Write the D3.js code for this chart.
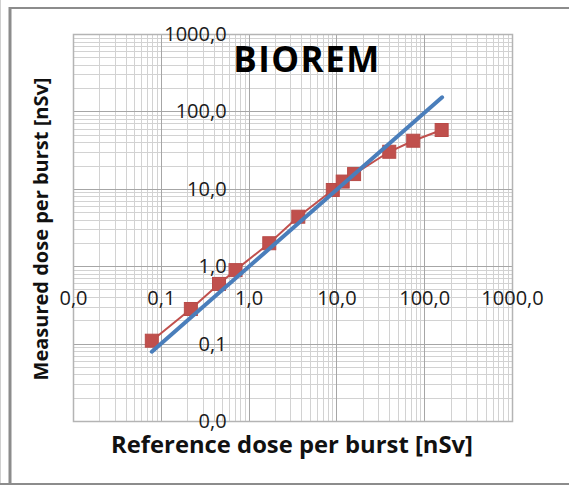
<!DOCTYPE html>
<html>
<head>
<meta charset="utf-8">
<script src="https://cdn.jsdelivr.net/npm/d3@7"></script>
<style>
  body { margin: 0; background: #fff; }
  svg { display: block; font-family: "Open Sans", Lato, sans-serif; }
</style>
</head>
<body>
<div id="chart"></div>
<script>
// measured vs reference dose, log-log
const refDose = [0.079, 0.22, 0.46, 0.71, 1.72, 3.68, 9.1, 11.8, 15.9, 40, 75, 158];
const measDose = [0.109, 0.28, 0.59, 0.89, 1.98, 4.36, 9.65, 12.4, 15.5, 30.1, 41.8, 57.5];

// blue reference line ends
const lineX = [0.079, 160];
const lineY = [0.0785, 152];

const tickValues = [0.01, 0.1, 1, 10, 100, 1000];
const tickLabels = ['0,0', '0,1', '1,0', '10,0', '100,0', '1000,0'];

const title = 'BIOREM';
const xTitle = 'Reference dose per burst [nSv]';
const yTitle = 'Measured dose per burst [nSv]';

let W = 569, H = 485;
let plot = { left: 73, right: 512, top: 34, bottom: 421 };

let svg = d3.select('#chart').append('svg')
    .attr('width', W)
    .attr('height', H);

// outer frame
svg.append('line').attr('x1', 0.5).attr('x2', 0.5).attr('y1', 0).attr('y2', H)
    .style('stroke', '#d0d0d0').style('stroke-width', 1);
svg.append('line').attr('x1', 10).attr('x2', W).attr('y1', 8).attr('y2', 8)
    .style('stroke', '#8c8c8c').style('stroke-width', 2);
svg.append('line').attr('x1', 0).attr('x2', W).attr('y1', 484).attr('y2', 484)
    .style('stroke', '#8c8c8c').style('stroke-width', 2);
svg.append('line').attr('x1', 10).attr('x2', 10).attr('y1', 7).attr('y2', H)
    .style('stroke', '#8c8c8c').style('stroke-width', 3);

let x = d3.scaleLog().domain([0.01, 1000]).range([plot.left, plot.right]);
let y = d3.scaleLog().domain([0.01, 1000]).range([plot.bottom, plot.top]);

// grid: minor then major
let minor = [];
tickValues.slice(0, -1).forEach(function(d) {
  for (let k = 2; k < 10; k++) minor.push(d * k);
});

let grid = svg.append('g');
grid.selectAll('.vmin').data(minor).enter().append('line')
    .attr('x1', d => Math.round(x(d)) + 0.5).attr('x2', d => Math.round(x(d)) + 0.5)
    .attr('y1', plot.top).attr('y2', plot.bottom)
    .style('stroke', '#d2d2d2');
grid.selectAll('.hmin').data(minor).enter().append('line')
    .attr('y1', d => Math.round(y(d)) + 0.5).attr('y2', d => Math.round(y(d)) + 0.5)
    .attr('x1', plot.left).attr('x2', plot.right)
    .style('stroke', '#d2d2d2');
grid.selectAll('.vmaj').data(tickValues).enter().append('line')
    .attr('x1', d => Math.round(x(d)) + 0.5).attr('x2', d => Math.round(x(d)) + 0.5)
    .attr('y1', plot.top).attr('y2', plot.bottom)
    .style('stroke', '#a6a6a6');
grid.selectAll('.hmaj').data(tickValues).enter().append('line')
    .attr('y1', d => Math.round(y(d)) + 0.5).attr('y2', d => Math.round(y(d)) + 0.5)
    .attr('x1', plot.left).attr('x2', plot.right)
    .style('stroke', '#a6a6a6');

// plot border
svg.append('rect')
    .attr('x', plot.left + 0.5).attr('y', plot.top + 0.5)
    .attr('width', plot.right - plot.left).attr('height', plot.bottom - plot.top)
    .style('fill', 'none').style('stroke', '#b4b4b4').style('stroke-width', 1.5);

// axes cross at 1
let fmt = d => tickLabels[tickValues.indexOf(d)];

let xAxis = svg.append('g')
    .attr('transform', 'translate(0,' + y(1) + ')')
    .call(d3.axisBottom(x).tickValues(tickValues).tickFormat(fmt).tickSize(0).tickPadding(25));
let yAxis = svg.append('g')
    .attr('transform', 'translate(' + x(1) + ',0)')
    .call(d3.axisLeft(y).tickValues(tickValues).tickFormat(fmt).tickSize(0).tickPadding(22));

[xAxis, yAxis].forEach(function(a) {
  a.select('.domain').remove();
  a.selectAll('text')
      .style('font-family', '"Open Sans", sans-serif')
      .style('font-size', '20px')
      .style('fill', '#1a1a1a');
});

// data series
let pts = refDose.map((d, i) => [d, measDose[i]]);

svg.append('path')
    .datum(pts)
    .attr('fill', 'none')
    .attr('stroke', '#c0504d')
    .attr('stroke-width', 2)
    .attr('d', d3.line().x(d => x(d[0])).y(d => y(d[1])));

let ms = 13;
svg.selectAll('.marker').data(pts).enter().append('rect')
    .attr('x', d => x(d[0]) - ms / 2)
    .attr('y', d => y(d[1]) - ms / 2)
    .attr('width', ms).attr('height', ms)
    .style('fill', '#c0504d')
    .style('stroke', '#b84b48')
    .style('stroke-width', 1);

// blue line on top
svg.append('path')
    .datum(lineX.map((d, i) => [d, lineY[i]]))
    .attr('fill', 'none')
    .attr('stroke', '#4a7ebb')
    .attr('stroke-width', 4)
    .attr('stroke-linecap', 'round')
    .attr('d', d3.line().x(d => x(d[0])).y(d => y(d[1])));

// titles
svg.append('text')
    .attr('x', 307).attr('y', 72)
    .attr('text-anchor', 'middle')
    .style('font-weight', 'bold')
    .style('font-size', '35px')
    .style('letter-spacing', '1.5px')
    .style('fill', '#000')
    .text(title);

svg.append('text')
    .attr('x', 292).attr('y', 453)
    .attr('text-anchor', 'middle')
    .style('font-weight', 'bold')
    .style('font-size', '23.8px')
    .style('fill', '#111')
    .text(xTitle);

svg.append('text')
    .attr('transform', 'translate(48,229) rotate(-90)')
    .attr('text-anchor', 'middle')
    .style('font-weight', 'bold')
    .style('font-size', '20px')
    .style('fill', '#111')
    .text(yTitle);
</script>
</body>
</html>
